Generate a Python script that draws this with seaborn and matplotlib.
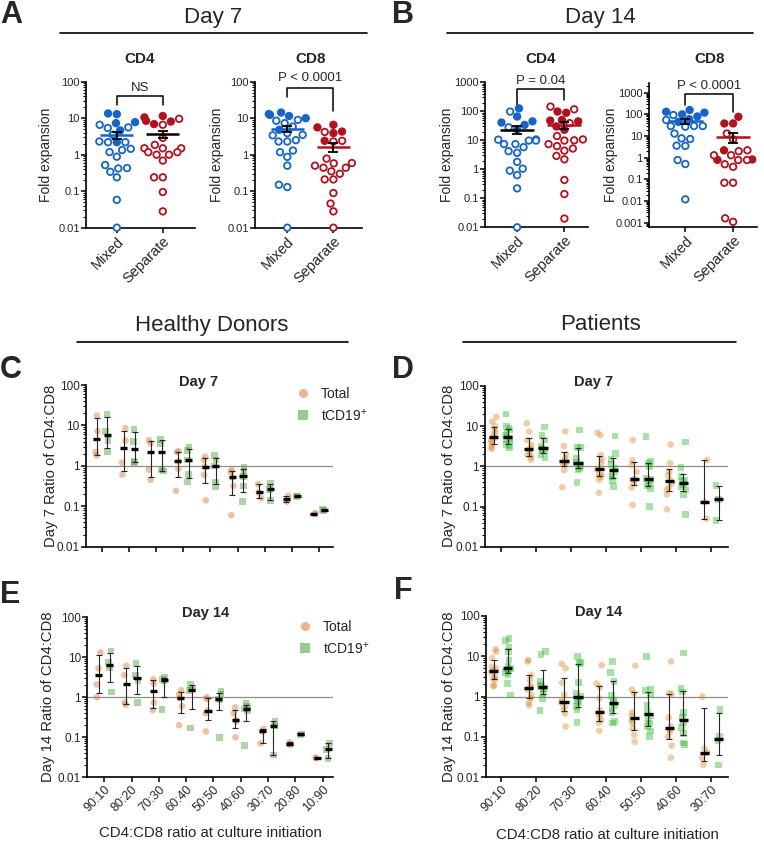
import numpy as np
import pandas as pd
import matplotlib
matplotlib.use('Agg')
import matplotlib.pyplot as plt
import seaborn as sns
from matplotlib.lines import Line2D
from matplotlib.ticker import LogLocator, NullFormatter
from matplotlib.transforms import blended_transform_factory

np.random.seed(3)

# ---- A/B: fold expansion, filled and open donors ----
d7_cd4_mixed_filled = [12.9, 13.5, 7.3, 7.8, 4.6, 2.2]
d7_cd4_mixed_open = [5.6, 6.6, 5.4, 3.5, 2.2, 2.3, 2.2, 1.34, 1.18, 1.45, 0.88,
                     0.42, 0.52, 0.43, 0.34, 0.24, 0.058, 0.01]
d7_cd4_sep_filled = [11.5, 10.5, 8.5, 8.1, 6.9]
d7_cd4_sep_open = [9.6, 6.6, 2.9, 1.86, 1.5, 1.5, 1.5, 1.17, 1.0, 1.0, 1.17, 0.69,
                   0.24, 0.24, 0.095, 0.028]

d7_cd8_mixed_filled = [14.3, 12.3, 10, 11.5, 13, 4.8]
d7_cd8_mixed_open = [9.0, 8.5, 7.3, 5.9, 3.9, 3.5, 3.4, 2.3, 2.3, 2.5, 1.3, 1.17,
                     0.87, 0.5, 0.15, 0.13, 0.01]
d7_cd8_sep_filled = [6.6, 5.6, 4.3, 3.9, 2.4]
d7_cd8_sep_open = [4.2, 2.4, 2.3, 0.78, 0.59, 0.58, 0.44, 0.44, 0.5, 0.35, 0.30,
                   0.21, 0.21, 0.089, 0.046, 0.028, 0.01]

d14_cd4_mixed_filled = [126, 41, 45, 66, 24, 34]
d14_cd4_mixed_open = [98, 28, 10.7, 9.8, 9.8, 10.5, 5.8, 7.4, 7.4, 4.2, 3.7, 1.8,
                      1.05, 0.9, 0.63, 0.22, 0.01]
d14_cd4_sep_filled = [98, 89, 50, 48, 45, 23, 30]
d14_cd4_sep_open = [145, 117, 39, 10.7, 14, 10, 9.8, 6.3, 7.4, 5.2, 4.4, 2.9, 2.2,
                    0.43, 0.14, 0.02]

d14_cd8_mixed_filled = [158, 132, 120, 100, 80, 60, 45]
d14_cd8_mixed_open = [93, 55, 29, 27, 29, 29, 13, 7.3, 7.8, 3.5, 3.6, 0.78, 0.51, 0.012]
d14_cd8_sep_filled = [77, 38, 38, 2.2, 0.83, 0.8]
d14_cd8_sep_open = [13, 7, 2.2, 2.0, 1.3, 1.3, 0.78, 0.78, 0.38, 0.5, 0.07, 0.07,
                    0.0011, 0.0016]

# ---- C-F: CD4:CD8 ratio per culture initiation ratio ----
ratios_hd = ['90:10', '80:20', '70:30', '60:40', '50:50', '40:60', '30:70', '20:80', '10:90']
ratios_pt = ratios_hd[:7]

hd_d7_total = [[17.4, 7.2, 2.2, 1.8], [8.5, 4.2, 1.2, 0.61], [4.3, 3.6, 0.8, 0.45],
               [2.3, 2.2, 1.3, 0.85, 0.24], [1.7, 1.4, 0.95, 0.6, 0.14],
               [0.78, 0.72, 0.52, 0.32, 0.06], [0.35, 0.22, 0.16], [0.18, 0.13],
               [0.068, 0.064]]
hd_d7_cd19 = [[18.7, 7.2, 4.3, 2.2], [8.0, 4.0, 1.3, 1.2], [4.5, 3.5, 0.8, 0.75],
              [2.9, 2.4, 1.4, 0.6, 0.4], [1.8, 1.4, 1.0, 0.4, 0.3],
              [0.9, 0.75, 0.55, 0.32, 0.13], [0.36, 0.26, 0.14], [0.18, 0.175],
              [0.082, 0.08]]
hd_d14_total = [[13.3, 5.3, 2.1, 1.0], [6.1, 3.6, 0.74, 0.65], [2.8, 2.2, 0.74, 0.48],
                [1.5, 1.2, 0.95, 0.6, 0.2], [1.0, 0.9, 0.46, 0.4, 0.14],
                [0.56, 0.4, 0.27, 0.25, 0.1], [0.16, 0.14, 0.07], [0.075, 0.068, 0.065],
                [0.031, 0.030]]
hd_d14_cd19 = [[14.5, 7.5, 5.5, 1.35], [7.0, 3.6, 2.6, 0.74], [3.2, 2.8, 2.6, 0.5],
               [2.1, 1.6, 1.5, 0.17], [1.4, 1.2, 0.9, 0.86, 0.1],
               [0.7, 0.6, 0.51, 0.46, 0.063], [0.25, 0.19, 0.036], [0.12, 0.115],
               [0.07, 0.05, 0.03]]

pt_d7_total = [[17, 13, 10, 8.5, 7, 6, 5, 4.5, 4, 3.5, 3, 2.7],
               [11.8, 7.3, 4.5, 3.4, 2.8, 2.6, 2.2, 1.9, 1.7, 1.45],
               [7.4, 3.2, 2.0, 1.6, 1.4, 1.3, 1.2, 1.1, 0.8, 0.3],
               [6.8, 6, 1.9, 1.5, 1.2, 0.9, 0.85, 0.65, 0.6, 0.55, 0.46, 0.22],
               [4.5, 1.4, 1.1, 0.74, 0.48, 0.46, 0.38, 0.3, 0.11],
               [3.5, 1.2, 0.74, 0.6, 0.46, 0.38, 0.3, 0.26, 0.2, 0.085],
               [1.45, 0.13, 0.05]]
pt_d7_cd19 = [[20, 10, 9, 8, 7, 6, 5, 4.5, 4, 3.5, 3.2, 3],
              [9.5, 5.8, 4.5, 3.2, 2.8, 2.6, 2.3, 1.9, 1.6],
              [8, 3.0, 2.9, 1.6, 1.25, 1.15, 1.0, 0.9, 0.85, 0.4],
              [5.7, 2.1, 1.5, 1.1, 0.9, 0.75, 0.6, 0.55, 0.45, 0.32],
              [5.5, 1.3, 1.2, 1.0, 0.5, 0.47, 0.4, 0.34, 0.28, 0.1],
              [4, 0.95, 0.55, 0.46, 0.42, 0.35, 0.32, 0.26, 0.2, 0.063],
              [0.33, 0.15, 0.045]]
pt_d14_total = [[15, 13, 9, 5.5, 5, 4.5, 4, 3.2, 2.8, 2.6, 1.9, 1.8],
                [8, 7.4, 3.4, 2.6, 1.9, 1.6, 1.5, 1.1, 0.9, 0.7, 0.6],
                [6.5, 5, 2.2, 1.1, 0.8, 0.7, 0.56, 0.46, 0.38, 0.18],
                [6, 2.1, 1.7, 0.9, 0.46, 0.38, 0.32, 0.26, 0.22, 0.14],
                [5.8, 1.5, 1.2, 0.4, 0.33, 0.26, 0.22, 0.16, 0.11, 0.075],
                [7.4, 1.2, 1.15, 0.3, 0.18, 0.15, 0.13, 0.1, 0.06, 0.03],
                [1.0, 0.05, 0.04, 0.03, 0.02]]
pt_d14_cd19 = [[28, 25, 17, 13, 8, 5.5, 5, 4.7, 4.4, 4, 3.5, 2.1, 1.1],
               [13, 11, 2.4, 1.9, 1.8, 1.6, 1.5, 1.2, 0.9, 0.45],
               [9.8, 7, 6.5, 2.2, 1.2, 1.0, 0.8, 0.7, 0.56, 0.46, 0.23],
               [7.3, 3.9, 2.4, 1.05, 0.8, 0.7, 0.6, 0.5, 0.4, 0.24, 0.22],
               [9.8, 1.5, 1.4, 1.1, 0.6, 0.4, 0.33, 0.27, 0.22, 0.18, 0.14, 0.1],
               [12, 1.6, 1.3, 0.4, 0.3, 0.22, 0.17, 0.12, 0.07, 0.065],
               [0.48, 0.1, 0.08, 0.02]]

log_ticks = [0.001, 0.01, 0.1, 1, 10, 100, 1000]
log_labels = ['0.001', '0.01', '0.1', '1', '10', '100', '1000']

sns.set_style('ticks')
plt.rcParams['font.family'] = ['Liberation Sans', 'DejaVu Sans']
plt.rcParams['mathtext.default'] = 'regular'

W, H = 764, 841
fig = plt.figure(figsize=(W / 100, H / 100), dpi=100)


def px_axes(l, t, r, b):
    return fig.add_axes([l / W, 1 - b / H, (r - l) / W, (b - t) / H])


def ftext(x, y, s, **kw):
    fig.text(x / W, 1 - y / H, s, **kw)


def fline(x0, x1, y):
    fig.add_artist(Line2D([x0 / W, x1 / W], [1 - y / H, 1 - y / H], color='black', lw=1.2))


def log_axis(ax, lo, hi, fs):
    ax.set_ylim(lo, hi)
    tk = [t for t in log_ticks if lo * 0.999 <= t <= hi * 1.001]
    ax.set_yticks(tk)
    ax.set_yticklabels([log_labels[log_ticks.index(t)] for t in tk], fontsize=fs)
    ax.yaxis.set_minor_locator(LogLocator(base=10, subs=np.arange(2, 10), numticks=30))
    ax.yaxis.set_minor_formatter(NullFormatter())
    sns.despine(ax=ax)
    for s in ['left', 'bottom']:
        ax.spines[s].set_linewidth(1.2)
        ax.spines[s].set_color('black')
    ax.tick_params(which='major', length=3.5, width=1.1, color='black', pad=1)
    ax.tick_params(axis='y', which='minor', length=2, width=0.8, color='black')
    ax.set_xlabel('')
    ax.set_ylabel('')


blue, red = '#1665C6', '#B0121E'
groups = ['Mixed', 'Separate']


def fold_panel(ax, mf, mo, sf, so, mean_cols, xlim, ylim, bracket, ptxt, ptxt_y, title):
    ax.set_yscale('log')
    for grp, col, fv, ov in [('Mixed', blue, mf, mo), ('Separate', red, sf, so)]:
        df = pd.DataFrame({'group': grp, 'value': fv + ov,
                           'fill': ['filled'] * len(fv) + ['open'] * len(ov)})
        sns.swarmplot(data=df, x='group', y='value', order=groups, hue='fill',
                      hue_order=['filled', 'open'], palette={'filled': col, 'open': 'white'},
                      edgecolor=col, linewidth=1.3, size=4.7, legend=False, ax=ax)
    for c in ax.collections:
        if len(c.get_offsets()) > 0:
            c.set_clip_on(False)
    for i, (fv, ov) in enumerate([(mf, mo), (sf, so)]):
        v = np.array(fv + ov, dtype=float)
        m = v.mean()
        sem = v.std(ddof=1) / np.sqrt(len(v))
        ax.hlines(m, i - 0.36, i + 0.36, color=mean_cols[i], lw=1.8, zorder=6)
        ax.errorbar(i, m, yerr=sem, fmt='none', ecolor='black', elinewidth=1.3,
                    capsize=3.5, capthick=1.3, zorder=7)
    yl, yt, yr = bracket
    ax.plot([0, 0, 1, 1], [yl, yt, yt, yr], color='black', lw=1.1, clip_on=False)
    ax.text(0.5, ptxt_y, ptxt, ha='center', va='center', fontsize=9.5, clip_on=False)
    log_axis(ax, ylim[0], ylim[1], 8)
    ax.set_xlim(xlim)
    ax.set_xticks([0, 1])
    ax.set_xticklabels(groups, rotation=45, ha='right', rotation_mode='anchor', fontsize=10.5)
    tr = blended_transform_factory(ax.transData, fig.transFigure)
    ax.text(0.5, 1 - 59 / H, title, transform=tr, ha='center', va='center',
            fontsize=11, fontweight='bold')


def ratio_panel(ax, cats, total, cd19, cols, alpha, xlim, show_labels):
    ax.set_yscale('log')
    rows = []
    for kind, series in [('Total', total), ('tCD19+', cd19)]:
        for cat, grp in zip(cats, series):
            for v in grp:
                rows.append((cat, kind, v))
    df = pd.DataFrame(rows, columns=['ratio', 'kind', 'value'])
    ax.axhline(1, color='#8c8c8c', lw=0.9, zorder=0)
    for kind, marker in [('Total', 'o'), ('tCD19+', 's')]:
        sns.stripplot(data=df[df['kind'] == kind], x='ratio', y='value', order=cats,
                      hue='kind', hue_order=['Total', 'tCD19+'], palette=cols, dodge=True,
                      jitter=0.16, marker=marker, size=4.8, alpha=alpha, linewidth=0,
                      legend=False, ax=ax)
    for off, series in [(-0.2, total), (0.2, cd19)]:
        for i, grp in enumerate(series):
            q1, med, q3 = np.percentile(grp, [25, 50, 75], method='weibull')
            x = i + off
            ax.errorbar(x, med, yerr=[[med - q1], [q3 - med]], fmt='none', ecolor='#262626',
                        elinewidth=0.8, capsize=2, capthick=0.8, zorder=5)
            ax.hlines(med, x - 0.13, x + 0.13, color='black', lw=2.4, zorder=6)
    log_axis(ax, 0.01, 100, 8.5)
    ax.set_xlim(xlim)
    ax.set_xticks(range(len(cats)))
    if show_labels:
        ax.set_xticklabels(cats, rotation=45, ha='right', rotation_mode='anchor', fontsize=9)
    else:
        ax.set_xticklabels([])


def ratio_legend(ax, x, y, cols, alpha):
    h = [Line2D([], [], ls='', marker='o', ms=6.5, color=cols['Total'], alpha=alpha, mew=0),
         Line2D([], [], ls='', marker='s', ms=6.5, color=cols['tCD19+'], alpha=alpha, mew=0)]
    ax.legend(h, ['Total', 'tCD19$^{+}$'], loc='upper left', bbox_to_anchor=(x / W, 1 - y / H),
              bbox_transform=fig.transFigure, frameon=False, fontsize=10, handlelength=1.0,
              handletextpad=0.8, labelspacing=0.45, borderpad=0, borderaxespad=0)


# ---- panels A and B ----
ax = px_axes(86, 81.7, 195, 227.7)
fold_panel(ax, d7_cd4_mixed_filled, d7_cd4_mixed_open, d7_cd4_sep_filled, d7_cd4_sep_open,
           [blue, 'black'], (-0.67, 1.7), (0.01, 100), (23, 41, 23), 'NS', 66, 'CD4')
ax = px_axes(255, 81.7, 362, 227.7)
fold_panel(ax, d7_cd8_mixed_filled, d7_cd8_mixed_open, d7_cd8_sep_filled, d7_cd8_sep_open,
           [blue, red], (-0.7, 1.62), (0.01, 100), (39, 67, 16), 'P < 0.0001', 126, 'CD8')
ax = px_axes(485, 82.3, 588, 227.3)
fold_panel(ax, d14_cd4_mixed_filled, d14_cd4_mixed_open, d14_cd4_sep_filled, d14_cd4_sep_open,
           ['black', red], (-0.68, 1.5), (0.01, 1000), (165, 570, 245), 'P = 0.04', 1135, 'CD4')
ax = px_axes(649, 82.7, 757, 227.3)
fold_panel(ax, d14_cd8_mixed_filled, d14_cd8_mixed_open, d14_cd8_sep_filled, d14_cd8_sep_open,
           [blue, red], (-0.76, 1.5), (10 ** -3.21, 10 ** 3.46), (270, 850, 131),
           'P < 0.0001', 2040, 'CD8')

for x, y in [(46, 155), (217, 155), (447, 155), (611, 155)]:
    ftext(x, y, 'Fold expansion', rotation=90, ha='center', va='center', fontsize=10)

# ---- panels C-F ----
hd_cols = {'Total': '#D9773A', 'tCD19+': '#4A9E3C'}
pt_cols = {'Total': '#D98A30', 'tCD19+': '#2DB82D'}

ax_c = px_axes(86, 385, 333, 546.7)
ratio_panel(ax_c, ratios_hd, hd_d7_total, hd_d7_cd19, hd_cols, 0.45, (-0.59, 8.52), False)
ratio_legend(ax_c, 296, 387, hd_cols, 0.55)
ax_d = px_axes(485, 386, 728, 546.7)
ratio_panel(ax_d, ratios_pt, pt_d7_total, pt_d7_cd19, pt_cols, 0.42, (-0.45, 6.47), False)
ax_e = px_axes(87.3, 617.3, 333, 777.3)
ratio_panel(ax_e, ratios_hd, hd_d14_total, hd_d14_cd19, hd_cols, 0.45, (-0.62, 8.38), True)
ratio_legend(ax_e, 298, 620, hd_cols, 0.55)
ax_f = px_axes(486, 616, 728, 777)
ratio_panel(ax_f, ratios_pt, pt_d14_total, pt_d14_cd19, pt_cols, 0.42, (-0.42, 6.47), True)

ftext(199, 382, 'Day 7', ha='center', va='center', fontsize=10.5, fontweight='bold')
ftext(594, 382, 'Day 7', ha='center', va='center', fontsize=10.5, fontweight='bold')
ftext(206, 613, 'Day 14', ha='center', va='center', fontsize=10.5, fontweight='bold')
ftext(599, 612, 'Day 14', ha='center', va='center', fontsize=10.5, fontweight='bold')

ftext(51, 466, 'Day 7 Ratio of CD4:CD8', rotation=90, ha='center', va='center', fontsize=10.7)
ftext(449, 466, 'Day 7 Ratio of CD4:CD8', rotation=90, ha='center', va='center', fontsize=10.7)
ftext(48, 697, 'Day 14 Ratio of CD4:CD8', rotation=90, ha='center', va='center', fontsize=10.7)
ftext(449, 697, 'Day 14 Ratio of CD4:CD8', rotation=90, ha='center', va='center', fontsize=10.7)

ftext(210, 833, 'CD4:CD8 ratio at culture initiation', ha='center', va='center', fontsize=10.8)
ftext(607, 835, 'CD4:CD8 ratio at culture initiation', ha='center', va='center', fontsize=10.8)

# ---- headers and panel letters ----
ftext(213, 17, 'Day 7', ha='center', va='center', fontsize=16)
fline(60, 367, 33)
ftext(600, 17, 'Day 14', ha='center', va='center', fontsize=16)
fline(447, 753, 33)
ftext(212, 325, 'Healthy Donors', ha='center', va='center', fontsize=16)
fline(77, 348, 342)
ftext(600, 325, 'Patients', ha='center', va='center', fontsize=16)
fline(463, 736, 342)

for letter, x, y in [('A', 0, 15), ('B', 392, 15), ('C', 0, 370), ('D', 392, 370),
                     ('E', 0, 595), ('F', 394, 591)]:
    ftext(x, y, letter, ha='left', va='center', fontsize=22, fontweight='bold')

fig.savefig('out.png', dpi=100)
